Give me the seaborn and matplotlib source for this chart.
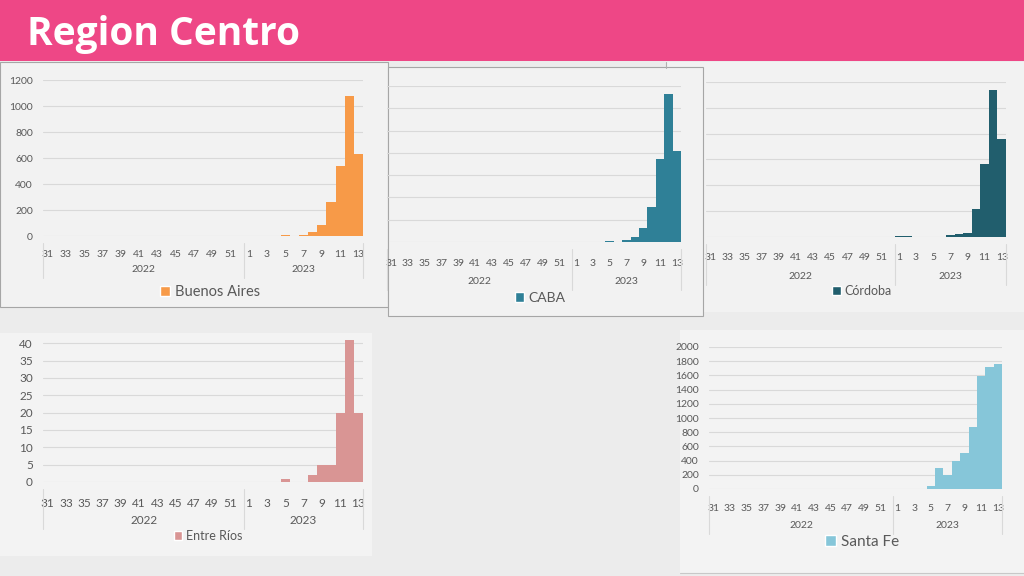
import numpy as np
import pandas as pd
import matplotlib.pyplot as plt
import seaborn as sns
from matplotlib.patches import Rectangle, Patch

# epidemiological weeks: 2022 (31-52) and 2023 (1-13)
weeks_2022 = list(range(31, 53))
weeks_2023 = list(range(1, 14))
weeks = weeks_2022 + weeks_2023
zeros_2022 = [0] * len(weeks_2022)

# weekly cases per province (2022 weeks are all zero)
buenos_aires_2023 = [0, 0, 0, 0, 5, 0, 10, 30, 88, 260, 538, 1075, 630]
caba_2023 = [0, 0, 0, 0, 8, 3, 15, 42, 122, 310, 745, 1325, 818]
cordoba_2023 = [5, 5, 0, 3, 0, 0, 15, 25, 33, 215, 565, 1135, 755]
entre_rios_2023 = [0, 0, 0, 0, 1, 0, 0, 2, 5, 5, 20, 41, 20]
santa_fe_2023 = [0, 0, 0, 5, 48, 290, 195, 400, 505, 870, 1590, 1720, 1760]

years = ["2022", "2023"]
title = "Region Centro"

W, H = 1024, 576
sns.set_theme(style="white")
plt.rcParams["font.family"] = ["Lato", "DejaVu Sans"]

fig = plt.figure(figsize=(W / 100, H / 100), dpi=100)
fig.patch.set_facecolor("#ECECEC")


def fig_rect(x0, y0, x1, y1, face, edge="none", z=-10, lw=0.8):
    r = Rectangle((x0 / W, 1 - y1 / H), (x1 - x0) / W, (y1 - y0) / H,
                  transform=fig.transFigure, facecolor=face, edgecolor=edge,
                  linewidth=lw, zorder=z)
    fig.add_artist(r)


def fig_line(xs, ys, color="#B0B0B0", lw=0.8):
    fig.add_artist(plt.Line2D([x / W for x in xs], [1 - y / H for y in ys],
                              transform=fig.transFigure, color=color, lw=lw, zorder=-4))


# slide pieces
fig_rect(0, 0, W, 61, "#EE4786", z=-5)
fig_rect(0, 62, 388, 307, "#F2F2F2", "#A6A6A6", z=-9)
fig_rect(666, 62, 1030, 312, "#F2F2F2", z=-9)
fig_line([666, 666], [62, 68])
fig_rect(388, 67, 703, 316, "#F2F2F2", "#A6A6A6", z=-8)
fig_rect(0, 333, 372, 556, "#F3F3F3", z=-9)
fig_rect(680, 330, 1030, 573, "#F3F3F3", z=-9)
fig_line([680, 1024], [573, 573], color="#C8C8C8")
fig.text(27 / W, 1 - 34 / H, title, color="white", fontsize=28,
         fontweight="bold", family=["Open Sans", "DejaVu Sans"], va="center")


def panel(values_2023, color, label, box, ylim, yticks, show_y, tick_fs,
          leg_pos, leg_fs, week_dy, year_dy, ytick_right=None):
    left, top, right, bottom = box
    ax = fig.add_axes([left / W, 1 - bottom / H, (right - left) / W, (bottom - top) / H])
    ax.set_facecolor("none")
    df = pd.DataFrame({"pos": np.arange(len(weeks)),
                       "cases": zeros_2022 + values_2023})
    sns.barplot(data=df, x="pos", y="cases", color=color, width=1.0,
                saturation=1, ax=ax, linewidth=0)
    ax.set_xlim(-0.5, len(weeks) - 0.5)
    ax.set_ylim(*ylim)
    ax.set_yticks(yticks)
    for y in yticks:
        ax.axhline(y, color="#D9D9D9", lw=0.8, zorder=0)
    for s in ax.spines.values():
        s.set_visible(False)
    ax.set_xticks(range(0, len(weeks), 2))
    ax.set_xticklabels([str(w) for w in weeks[::2]])
    ax.tick_params(axis="x", length=0, pad=week_dy * 0.72, labelsize=tick_fs,
                   labelcolor="#595959")
    if show_y:
        pad = (left - ytick_right) * 0.72
        ax.tick_params(axis="y", length=0, pad=pad, labelsize=tick_fs,
                       labelcolor="#595959")
    else:
        ax.set_yticklabels([])
        ax.tick_params(axis="y", length=0)
    ax.set_xlabel("")
    ax.set_ylabel("")
    h = bottom - top
    trans = ax.get_xaxis_transform()
    # year labels and group separators
    yy = -year_dy / h
    ax.text(10.5, yy, years[0], transform=trans, ha="center", va="center",
            fontsize=tick_fs, color="#595959")
    ax.text(28, yy, years[1], transform=trans, ha="center", va="center",
            fontsize=tick_fs, color="#595959")
    for xs in [-0.5, 21.5, len(weeks) - 0.5]:
        ax.plot([xs, xs], [-7 / h, -(year_dy + 8) / h], transform=trans,
                color="#D9D9D9", lw=0.8, clip_on=False)
    lx, ly = leg_pos
    ax.legend(handles=[Patch(facecolor=color, label=label)], loc="center",
              bbox_to_anchor=(lx / W, 1 - ly / H), bbox_transform=fig.transFigure,
              frameon=False, fontsize=leg_fs, handlelength=0.7, handleheight=0.7,
              handletextpad=0.3, labelcolor="#595959", borderpad=0)
    return ax


panel(buenos_aires_2023, "#F79A48", "Buenos Aires", (43, 80, 363, 236),
      (0, 1200), range(0, 1201, 200), True, 7.5, (210, 292), 10.5, 14, 34, ytick_right=33)
panel(caba_2023, "#2F8097", "CABA", (387, 86, 681, 242),
      (0, 1400), range(0, 1401, 200), False, 7.5, (540, 298), 10, 17, 40)
panel(cordoba_2023, "#215E6D", "Córdoba", (706, 82, 1006, 237),
      (0, 1200), range(0, 1201, 200), False, 7.5, (862, 291), 9, 16, 40)
panel(entre_rios_2023, "#D99594", "Entre Ríos", (43, 338, 363, 482),
      (0, 41.5), range(0, 41, 5), True, 8.5, (208, 536), 9, 16, 39, ytick_right=33)
panel(santa_fe_2023, "#86C6D9", "Santa Fe", (709, 347, 1002, 489),
      (0, 2000), range(0, 2001, 200), True, 7.5, (862, 542), 11, 15, 37, ytick_right=699)

fig.savefig("out.png", dpi=100, facecolor=fig.get_facecolor())
